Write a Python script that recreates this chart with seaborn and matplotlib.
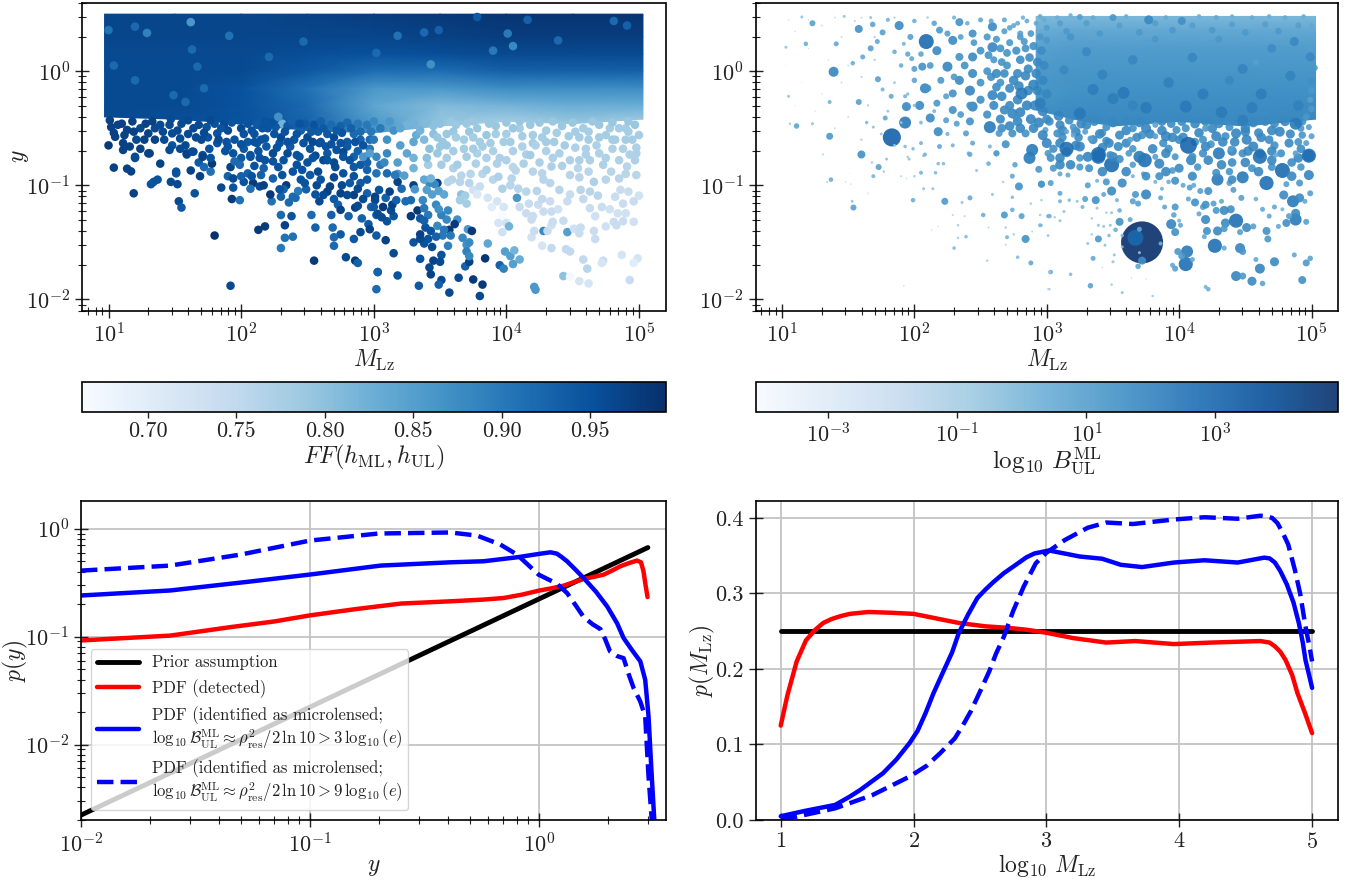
import numpy as np
import pandas as pd
import matplotlib
matplotlib.use("Agg")
import matplotlib.pyplot as plt
from matplotlib.cm import ScalarMappable
from matplotlib.colors import Normalize, LogNorm
from matplotlib.ticker import LogLocator, NullFormatter, FixedLocator
import seaborn as sns

# ---------- panel (a): sparse points (log10 M, log10 y, FF) ----------
ff_spots = [(1.62,.43,.86),(1.0,.36,.91),(1.2,.39,.92),(1.29,.335,.89),(1.91,.31,.91),(1.63,.19,.92),(1.04,.05,.92),(1.2,-.08,.92),
 (1.72,-.15,.92),(1.67,.04,.92),(1.58,-.27,.92),(1.49,-.21,.92),(2.28,-.40,.87),(2.21,.125,.92),(2.47,.26,.92),(3.18,.31,.91),
 (3.38,.34,.92),(3.49,.36,.93),(4.01,.33,.9),(4.39,.27,.92),(4.05,.22,.88),(3.9,.18,.9),(3.43,.06,.87),(4.81,.44,.92),(4.91,.40,.93),
 (4.16,.45,.93),(3.78,.475,.94),(3.02,.16,.92)]
ff_low_left = [(1.0,-.65,.98),(1.05,-.575,.97),(1.11,-.63,.97),(1.16,-.66,.97),(1.2,-.75,.96),(1.24,-.68,.97),(1.3,-.72,.97),(1.21,-.6,.96),
 (1.02,-.49,.97),(1.07,-.47,.97),(1.01,-.43,.97),(1.14,-.515,.97),(1.24,-.5,.96),(1.3,-.545,.97),(1.35,-.6,.97),(1.41,-.53,.96),
 (1.48,-.545,.96),(1.54,-.59,.96),(1.48,-.65,.95),(1.54,-.68,.96),(1.59,-.72,.97),(1.64,-.705,.96),(1.58,-.65,.96),(1.39,-.47,.96),
 (1.64,-.5,.96),(1.74,-.49,.95),(1.82,-.545,.95),(1.71,-.735,.95),(1.76,-.68,.95),(1.82,-.63,.95),(1.89,-.62,.95),(1.94,-.72,.95),
 (2.02,-.68,.94),(2.07,-.735,.95),(2.12,-.63,.95),(2.19,-.66,.94),(2.24,-.72,.96),(2.29,-.63,.95),(2.37,-.66,.94),(2.42,-.735,.95),
 (2.52,-.68,.95),(2.59,-.63,.96),(2.65,-.72,.94),(2.72,-.69,.95),(2.8,-.66,.94),(2.85,-.75,.93),(2.9,-.6,.93),(2.97,-.68,.9),(2.31,-.46,.82),
 (2.35,-.48,.94),(2.45,-.52,.93),(2.55,-.47,.95),(2.65,-.55,.94),(2.75,-.48,.93),(2.85,-.55,.92),(2.95,-.47,.9),(2.4,-.6,.95),(2.6,-.62,.95),
 (2.8,-.62,.94),(2.92,-.65,.95),(2.2,-.5,.95),(2.1,-.55,.95),(2.0,-.5,.96),(1.9,-.52,.96),(1.95,-.6,.95),(2.05,-.62,.94),(2.15,-.6,.95),
 (2.3,-.58,.96),(2.5,-.58,.96),(2.7,-.58,.96),(1.75,-.58,.95),
 (1.1,-.46,.97),(1.18,-.44,.97),(1.28,-.46,.97),(1.35,-.5,.96),(1.46,-.47,.96),(1.55,-.46,.96),(1.6,-.55,.96),(1.68,-.47,.96),(1.7,-.6,.96),(1.8,-.46,.95),
 (1.87,-.47,.96),(1.93,-.45,.95),(2.05,-.46,.95),(2.12,-.47,.94),(2.18,-.44,.95),(2.26,-.49,.94),(2.38,-.44,.93),(2.48,-.46,.94),(2.6,-.44,.93),(2.68,-.47,.92),
 (2.8,-.45,.92),(2.88,-.46,.9),(3.0,-.44,.88),(2.98,-.53,.9),(2.76,-.54,.95),(2.58,-.53,.94),(2.42,-.55,.95),(2.25,-.55,.95),(2.08,-.52,.95),(1.83,-.6,.96),
 (2.13,-.7,.95),(2.27,-.67,.95),(2.47,-.63,.95),(2.56,-.74,.96),(2.68,-.64,.95),(2.77,-.71,.96),(2.88,-.7,.93),(2.94,-.75,.94),(2.35,-.72,.96),(2.0,-.76,.94),
 (1.88,-.7,.95),(2.18,-.78,.95),(2.5,-.8,.95),(2.7,-.8,.96),(2.9,-.82,.94)]
ff_low_extra = [(1.04,-.54,.97),(1.12,-.56,.97),(1.19,-.53,.97),(1.27,-.6,.97),(1.33,-.44,.97),(1.42,-.6,.96),(1.47,-.42,.96),(1.52,-.52,.96),(1.6,-.43,.96),(1.66,-.58,.96),(1.72,-.54,.96),
 (1.77,-.43,.96),(1.85,-.5,.95),(1.98,-.43,.95),(2.02,-.55,.95),(2.16,-.5,.95),(2.23,-.45,.95),(2.33,-.53,.95),(2.44,-.46,.95),(2.53,-.53,.94),(2.62,-.5,.94),(2.72,-.52,.94),(2.83,-.5,.93),
 (2.9,-.53,.92),(2.97,-.6,.92),(2.86,-.62,.95),(2.64,-.66,.95),(2.54,-.62,.96),(2.35,-.62,.95),(2.18,-.59,.95),(1.9,-.66,.95),(2.0,-.64,.95),(2.1,-.62,.95),(2.75,-.63,.95),(2.82,-.78,.95),
 (2.62,-.78,.96),(2.42,-.82,.95),(2.28,-.84,.95),(2.1,-.83,.95),(2.95,-.8,.93),(3.05,-.82,.9),
 (3.1,-.72,.88),(3.08,-.8,.88),(3.18,-.8,.85),(3.32,-.56,.83),(3.38,-.6,.81),(3.45,-.55,.8),(3.52,-.62,.79),(3.6,-.53,.79),(3.72,-.53,.79),(3.8,-.62,.78),(3.92,-.55,.78),(4.0,-.55,.78),
 (4.1,-.5,.78),(4.2,-.63,.78),(4.27,-.58,.78),(4.38,-.54,.78),(4.44,-.65,.78),(4.52,-.53,.78),(4.62,-.53,.78),(4.68,-.65,.77),(4.78,-.5,.78),(4.8,-.6,.78),(4.9,-.5,.78),(4.95,-.6,.78),
 (3.55,-.65,.79),(3.78,-.72,.77),(3.95,-.76,.77),(4.15,-.73,.77),(4.35,-.76,.77),(4.6,-.73,.77),(4.75,-.76,.77),(4.98,-.72,.77),(3.48,-.72,.79),(3.18,-.9,.86),(3.6,-.85,.77),(3.82,-.9,.76),
 (4.05,-.84,.76),(4.2,-.88,.76),(4.62,-.88,.76),(4.9,-.9,.76),(4.75,-.95,.76),(4.55,-.93,.76),(3.72,-.98,.76)]
ff_mid_left = [(1.04,-.845,.97),(1.14,-.854,.97),(1.17,-.878,.97),(1.2,-.76,.96),(1.19,-1.07,.97),(1.32,-.99,.95),(1.34,-.97,.95),(1.37,-.95,.95),
 (1.39,-.81,.97),(1.47,-.97,.96),(1.52,-.99,.96),(1.51,-.88,.95),(1.51,-.895,.95),(1.62,-.87,.97),(1.69,-.92,.97),(1.65,-1.07,.95),(1.53,-1.14,.96),
 (1.55,-1.195,.94),(1.68,-.8,.94),(1.72,-.84,.92),(1.77,-.88,.91),(1.85,-1.02,.96),(1.93,-1.12,.98),(1.99,-1.13,.91),(1.94,-1.02,.95),(1.8,-1.44,.99),
 (2.13,-1.39,.98),(2.18,-1.36,.98),(1.92,-1.88,.96),(2.3,-1.26,.92),(2.38,-1.27,.95),(2.53,-1.26,.92),(2.33,-1.35,.97),(2.56,-1.37,.93),(2.33,-1.46,.91),
 (2.39,-1.45,.91),(2.3,-1.55,.9),(2.69,-1.37,.92),(2.75,-1.43,.94),(2.7,-1.455,.92),(2.7,-1.53,.92),(2.85,-1.47,.94),(2.9,-1.41,.96),(3.02,-1.44,.94),
 (2.55,-1.66,.98),(2.79,-1.63,.96),(2.86,-1.66,.98),(2.88,-1.68,.93),(3.03,-1.76,.93),(3.02,-1.91,.92),(2.81,-1.27,.93),(2.68,-1.26,.93),(2.59,-1.14,.96),
 (2.36,-1.15,.92),(2.23,-1.14,.91),(2.3,-1.10,.93),(2.22,-1.08,.98),(2.41,-1.11,.92),(2.39,-1.10,.92),(1.11,-.69,.97),(1.31,-.72,.97),(1.46,-.69,.96),
 (1.59,-.73,.97),(1.63,-.705,.96),(1.71,-.75,.97),(1.78,-.81,.98),(1.77,-.76,.95),(1.92,-.84,.97),(1.95,-.79,.92),(1.99,-.82,.92),(1.9,-.92,.93),
 (1.94,-.94,.96),(2.02,-.97,.95),(2.09,-.98,.98),(2.0,-.92,.93),(2.05,-.895,.93),(2.08,-.92,.95),(2.15,-.91,.93),(2.17,-.85,.93),(2.14,-1.01,.96),
 (2.17,-1.0,.97),(2.07,-1.03,.91),(2.24,-.94,.93),(2.31,-.91,.95),(2.34,-1.0,.98),(2.32,-1.035,.93),(2.29,-1.035,.95),(2.43,-1.05,.9),(2.49,-1.035,.93),
 (2.48,-.98,.95),(2.57,-1.0,.96),(2.52,-.91,.94),(2.39,-.88,.95),(2.46,-.865,.95),(2.58,-.88,.96),(2.65,-1.055,.97),(2.62,-1.085,.96),(2.67,-1.01,.97),
 (2.75,-1.07,.97),(2.8,-1.085,.96),(2.85,-1.085,.97),(2.73,-1.17,.93),(2.75,-1.215,.97),(2.86,-1.195,.97),(2.88,-1.18,.96),(2.91,-1.29,.93),(2.96,-1.34,.94),
 (2.97,-1.385,.97),(3.02,-1.26,.93),(2.98,-1.19,.93),(3.01,-1.13,.96),(2.95,-1.07,.93),(2.9,-.98,.94),(2.82,-.98,.94),(2.77,-.895,.95),(2.71,-.84,.96),
 (2.85,-.84,.94),(2.95,-.865,.93),(3.02,-.895,.91),(2.65,-.78,.95),(2.77,-.75,.95),(2.54,-.76,.95),(2.44,-.75,.95),(2.32,-.78,.95),(2.24,-.79,.95),
 (2.14,-.76,.95),(2.07,-.75,.95),(3.02,-.75,.88),(2.92,-.75,.86),(2.97,-.72,.85),
 (2.6,-.95,.95),(2.7,-.93,.96),(2.85,-.92,.95),(2.95,-.95,.94),(2.76,-1.0,.96),(2.88,-1.03,.96),(2.56,-1.08,.95),(2.7,-1.12,.94),(2.92,-1.12,.96),(2.45,-.95,.95)]
ff_dark_tail = [(3.09,-1.481,.97),(3.15,-1.595,.96),(3.03,-1.76,.93),(3.18,-1.79,.95),(3.35,-1.644,.95),(3.45,-1.66,.97),(3.51,-1.61,.95),(3.5,-1.67,.96),
 (3.42,-1.72,.96),(3.43,-1.78,.97),(3.51,-1.83,.96),(3.49,-1.87,.93),(3.34,-1.88,.94),(3.57,-1.94,.96),(3.64,-1.81,.96),(3.75,-1.825,.98),(3.82,-1.87,.98),
 (3.8,-1.97,.96),(3.69,-1.71,.93),(3.72,-1.67,.97),(3.84,-1.64,.985),(3.95,-1.7,.93),(3.98,-1.73,.89),(3.67,-1.46,.88),(3.7,-1.52,.87),(3.72,-1.5,.88),
 (3.7,-1.58,.89),(3.72,-1.62,.88),(3.56,-1.53,.89),(3.71,-1.385,.86),(3.74,-1.4,.98),(3.63,-1.3,.87),(3.61,-1.34,.98),(3.57,-1.39,.98),(3.58,-1.44,.9),
 (3.52,-1.44,.9),(3.47,-1.45,.93),(3.44,-1.54,.96),(3.41,-1.47,.95),(3.38,-1.51,.95),(3.3,-1.5,.95),(3.35,-1.47,.96),(3.35,-1.43,.97),(3.39,-1.37,.95),
 (3.43,-1.4,.95),(3.48,-1.355,.88),(3.53,-1.39,.9),(3.55,-1.3,.88),(3.56,-1.22,.88),(3.51,-1.26,.89),(3.47,-1.17,.88),(3.49,-1.21,.87),(3.41,-1.26,.9),
 (3.35,-1.29,.94),(3.38,-1.31,.93),(3.33,-1.22,.98),(3.28,-1.27,.98),(3.28,-1.13,.92),(3.24,-1.14,.92),(3.37,-1.13,.88),(3.38,-1.2,.9),(3.1,-1.315,.95),
 (3.06,-1.28,.96),(3.03,-1.25,.96),(3.15,-1.27,.95),(3.13,-1.22,.96),(3.07,-1.19,.98),(3.0,-1.19,.94),(3.14,-1.17,.97),(3.17,-1.13,.93),(3.09,-1.11,.93),
 (3.01,-1.1,.97),(3.04,-1.04,.95),(3.12,-1.055,.97),(3.21,-1.03,.92),(3.18,-.97,.97),(3.16,-.91,.9),(3.23,-.915,.85),(3.1,-.895,.92),(3.3,-1.0,.97),
 (3.31,-1.035,.86),(3.48,-.98,.97),(3.42,-.98,.88),(3.46,-.99,.88),(3.4,-1.04,.85),(3.44,-1.08,.85),(3.49,-1.05,.85),(3.53,-1.08,.84),(3.38,-.95,.84),
 (3.43,-.94,.82),(3.56,-.97,.76),(3.59,-.95,.76)]
ff_light_tail = [(3.99,-1.58,.85),(4.03,-1.62,.85),(4.06,-1.57,.82),(4.1,-1.65,.83),(4.05,-1.69,.85),(4.21,-1.89,.86),(4.22,-1.915,.86),(4.43,-1.795,.8),
 (4.27,-1.53,.72),(4.34,-1.55,.75),(4.45,-1.56,.75),(4.48,-1.58,.75),(4.58,-1.65,.75),(4.73,-1.66,.74),(4.72,-1.68,.72),(4.61,-1.73,.76),(4.87,-1.61,.72),
 (4.99,-1.64,.72),(4.96,-1.68,.7),(4.55,-1.84,.72),(4.62,-1.86,.72),(4.93,-1.83,.74),(4.48,-1.8,.67),(3.86,-1.51,.84),(3.66,-.915,.76),(3.65,-.97,.76),
 (3.66,-1.08,.8),(3.69,-1.09,.78),(3.65,-1.13,.78),(3.7,-1.16,.78),(3.73,-.9,.76),(3.75,-1.04,.73),(3.78,-1.08,.71),(3.8,-1.01,.74),(3.86,-1.11,.72),
 (3.93,-1.14,.72),(3.89,-1.19,.7),(3.98,-1.19,.72),(3.97,-1.26,.66),(3.94,-1.33,.72),(4.0,-1.33,.73),(4.02,-1.36,.82),(3.97,-1.41,.73),(4.19,-1.455,.73),
 (4.21,-1.4,.74),(4.28,-1.4,.88),(4.31,-1.4,.74),(4.34,-1.35,.73),(4.35,-1.32,.74),(4.43,-1.31,.74),(4.46,-1.41,.85),(4.51,-1.38,.73),(4.56,-1.37,.74),
 (4.55,-1.42,.74),(4.66,-1.4,.74),(4.67,-1.47,.74),(4.75,-1.36,.73),(4.81,-1.32,.74),(4.83,-1.35,.74),(4.88,-1.315,.74),(4.96,-1.32,.73),(4.08,-1.11,.86),
 (4.2,-1.27,.74),(4.19,-1.3,.74),(4.15,-1.245,.74),(4.1,-1.19,.74),(4.17,-1.16,.74),(4.24,-1.17,.74),(4.28,-1.23,.74),(4.34,-1.23,.74),(4.39,-1.21,.73),
 (4.33,-1.14,.74),(4.27,-1.12,.75),(4.46,-1.14,.74),(4.48,-1.08,.74),(4.58,-1.12,.75),(4.63,-1.2,.74),(4.67,-1.27,.73),(4.72,-1.19,.74),(4.78,-1.21,.73),
 (4.84,-1.245,.73),(4.9,-1.245,.73),(4.96,-1.14,.74),(5.0,-1.09,.73),(4.88,-1.16,.74),(4.82,-1.1,.74),(4.92,-1.055,.74),(4.86,-1.04,.74),(4.69,-1.09,.76),
 (4.63,-1.055,.76),(4.56,-1.04,.76),(4.4,-1.04,.76),(4.33,-.98,.76),(4.28,-.95,.76),(4.23,-1.05,.76),(4.15,-1.055,.76),(4.09,-1.03,.76),(4.03,-1.0,.76),
 (3.97,-1.03,.77),(3.9,-.95,.76),(3.94,-.925,.77),(4.04,-.94,.76),(4.13,-.81,.77),(4.18,-.735,.78),(4.27,-.895,.76),(4.34,-.835,.77),(4.42,-.83,.77),
 (4.48,-.78,.77),(4.48,-.91,.76),(4.54,-.85,.76),(4.63,-.78,.77),(4.66,-.97,.77),(4.73,-.82,.77),(4.79,-.88,.76),(4.91,-.835,.76),(4.97,-.78,.77),(4.98,-.91,.76),
 (4.85,-.94,.76),(3.93,-.81,.77),(3.85,-.865,.77),(3.77,-.81,.77),(3.7,-.75,.78),(3.63,-.82,.78),(3.51,-.82,.78),(3.41,-.82,.78),(3.3,-.85,.82),(3.3,-.76,.82),
 (3.25,-.47,.82),(3.35,-.52,.82),(3.45,-.48,.8),(3.55,-.55,.79),(3.62,-.47,.79),(3.68,-.6,.78),(3.78,-.5,.79),(3.85,-.56,.79),(3.92,-.48,.79),(3.98,-.62,.78),
 (4.05,-.5,.79),(4.12,-.57,.78),(4.18,-.47,.79),(4.22,-.65,.77),(4.3,-.52,.78),(4.36,-.62,.78),(4.42,-.48,.79),(4.47,-.57,.78),(4.52,-.67,.77),(4.58,-.5,.78),
 (4.62,-.6,.78),(4.7,-.47,.79),(4.75,-.56,.78),(4.8,-.68,.77),(4.85,-.5,.78),(4.9,-.6,.78),(4.97,-.47,.79),(5.0,-.56,.78),(4.98,-.67,.77),(3.3,-.62,.84),(3.42,-.68,.8),
 (3.6,-.7,.78),(3.75,-.68,.78),(3.9,-.7,.77),(4.05,-.7,.77),(4.4,-.72,.77),(4.7,-.72,.77),(4.93,-.73,.77),(3.1,-.6,.87),(3.15,-.52,.87),(3.2,-.65,.85),(3.05,-.5,.9),(3.0,-.6,.9),
 (3.12,-.44,.86),(3.2,-.5,.84),(3.3,-.45,.82),(3.4,-.44,.81),(3.5,-.46,.8),(3.58,-.44,.79),(3.7,-.46,.79),(3.75,-.44,.79),(3.87,-.46,.79),(4.0,-.45,.79),(4.1,-.44,.79),
 (4.25,-.45,.79),(4.35,-.44,.79),(4.5,-.45,.79),(4.65,-.44,.79),(4.8,-.45,.79),(4.92,-.44,.79),(3.48,-.58,.79),(3.62,-.58,.78),(3.75,-.58,.78),(3.88,-.63,.78),(4.03,-.62,.78),
 (4.2,-.56,.78),(4.3,-.62,.78),(4.55,-.58,.78),(4.7,-.58,.78),(4.82,-.6,.78),(4.92,-.53,.78),(3.5,-.66,.79),(3.68,-.68,.78),(3.82,-.66,.78),(4.12,-.66,.77),(4.3,-.7,.77),
 (4.6,-.68,.77),(4.88,-.68,.77),(3.25,-.72,.84),(3.4,-.76,.8),(3.55,-.76,.78),(3.85,-.76,.77),(4.0,-.78,.77),(4.25,-.8,.77),(4.55,-.78,.77),(4.85,-.78,.77),(4.07,-.87,.76)]

# dense FF band, as a coarse table
band_logM = [.97, 1.5, 2, 2.5, 3, 3.5, 4, 4.5, 5.03]
band_logy = [.5, .3, .15, 0, -.15, -.3, -.42]
band_edge = [-.4, -.42, -.46, -.52, -.54, -.48, -.44, -.46, -.42]
band_ff = [[.965,.965,.965,.97,.975,.98,.985,.985,.985],
           [.965,.965,.965,.965,.965,.97,.975,.975,.975],
           [.96,.96,.96,.955,.95,.955,.96,.96,.96],
           [.96,.96,.96,.94,.915,.915,.93,.93,.93],
           [.96,.96,.95,.91,.86,.86,.875,.875,.875],
           [.96,.96,.95,.92,.84,.81,.82,.83,.83],
           [.96,.955,.95,.93,.87,.79,.78,.79,.79]]

# ---------- panel (b): points (log10 M, log10 y, log10 B) ----------
bf_giant = [(3.72,-1.5,4.9),(2.87,-.76,2.37),(3.67,-1.46,2.95)]
bf_low = [(3.72,-1.66,1.55),(3.69,-1.71,.8),(3.7,-1.385,.6),(3.86,-1.51,.15),(3.7,-1.59,-.43),(3.57,-1.54,-.43),(4.05,-1.69,2.7),(4.06,-1.58,2.37),(3.99,-1.58,1.28),
 (3.95,-1.7,.6),(3.97,-1.73,.97),(4.1,-1.65,.6),(4.02,-1.62,1.28),(4.27,-1.53,2.7),(4.34,-1.55,.6),(4.46,-1.55,2.0),(4.48,-1.58,1.28),(4.43,-1.795,2.0),(4.48,-1.795,1.28),
 (4.55,-1.84,1.8),(4.63,-1.86,.8),(4.61,-1.73,2.0),(4.72,-1.67,1.8),(4.58,-1.65,.6),(4.87,-1.61,.6),(4.96,-1.68,1.28),(4.99,-1.64,.8),(4.93,-1.83,1.55),(4.2,-1.89,.15),
 (4.22,-1.91,.4),(3.33,-1.88,.8),(3.18,-1.78,-.1),(3.03,-1.76,.4),(3.02,-1.91,-.8),(3.49,-1.87,-.8),(3.57,-1.94,-.43),(3.8,-1.97,-.8),(3.64,-1.81,-1.8),(3.75,-1.82,-1.8),
 (3.35,-1.64,.6),(3.51,-1.61,-.43),(3.5,-1.67,-.43),(3.42,-1.72,-1.8),(3.39,-1.47,1.28),(3.31,-1.51,-.43),(3.34,-1.43,-.8),(3.44,-1.525,-.43),(3.47,-1.44,-.1),(3.52,-1.39,.4),
 (3.57,-1.44,-.1),(3.55,-1.32,1.55),(3.63,-1.3,.6),(3.55,-1.22,.4),(3.49,-1.24,-.43),(3.45,-1.24,-.8),(3.43,-1.36,-.43),(3.48,-1.35,-.43),(3.39,-1.35,-.43),(3.38,-1.2,-.43),
 (3.34,-1.29,-.8),(3.53,-1.13,.15),(3.37,-1.13,1.55),(3.29,-1.12,.97),(3.27,-1.19,.15),(3.23,-1.14,-.43),(3.17,-1.13,-.1),(3.1,-1.14,.15),(3.13,-1.23,-.43),(3.02,-1.27,.4),
 (3.06,-1.28,-.8),(3.1,-1.31,-.43),(2.96,-1.35,-.43),(3.01,-1.44,-.8),(3.94,-1.34,2.0),(3.97,-1.41,1.55),(3.96,-1.26,.8),(3.97,-1.19,1.28),(3.89,-1.19,.6),(3.86,-1.11,.6),
 (4.01,-1.35,.6),(4.0,-1.31,.15),(3.65,-1.14,.97),(3.69,-1.16,.97)]
bf_right = [(4.2,-1.3,1.8),(4.21,-1.4,1.55),(4.19,-1.45,.6),(4.29,-1.4,1.8),(4.35,-1.33,1.8),(4.43,-1.31,2.7),(4.34,-1.38,1.28),(4.51,-1.37,1.8),(4.56,-1.36,.97),(4.46,-1.41,.97),
 (4.66,-1.4,1.55),(4.67,-1.47,1.28),(4.75,-1.36,.6),(4.81,-1.33,1.55),(4.88,-1.3,2.37),(4.88,-1.245,1.8),(4.96,-1.32,.97),(4.83,-1.27,.97),(4.68,-1.27,.6),(4.63,-1.21,.6),
 (4.72,-1.19,.6),(4.78,-1.21,.15),(4.39,-1.21,1.55),(4.34,-1.22,1.8),(4.28,-1.22,1.28),(4.15,-1.25,.6),(4.18,-1.19,.97),(4.2,-1.17,1.55),(4.26,-1.16,.97),(4.12,-1.15,1.55),
 (4.32,-1.14,.6),(4.07,-1.12,.6),(4.86,-1.14,2.37),(4.91,-1.11,1.8),(4.79,-1.085,1.8),(4.95,-1.14,.6),(4.99,-1.07,.97),(4.81,-.99,.97),(4.91,-.98,1.28),(4.66,-.98,2.7),
 (4.58,-1.12,.4),(4.47,-1.11,.97),(4.48,-.93,2.37),(4.29,-.95,2.37),(4.22,-1.05,1.55),(4.16,-1.05,.97),(4.41,-1.04,.97),(4.38,-.98,.97),(4.08,-1.02,.97),(4.11,-1.0,.6),
 (4.03,-1.0,.6),(3.97,-.96,1.55),(3.92,-.97,.4),(3.87,-1.03,.15),(3.82,-.97,.15),(3.85,-.92,1.55),(3.73,-.9,.6),(3.65,-.92,.15),(3.57,-.98,1.8),(3.45,-.97,1.28),(3.49,-1.05,1.8),
 (3.43,-1.08,.6),(3.31,-1.0,.97),(3.38,-.96,.15),(3.16,-.91,.6),(3.1,-.9,.6),(3.03,-.98,.97),(2.96,-.99,1.28),(3.1,-1.07,.6),(3.75,-1.08,2.0),(3.67,-1.08,1.28),(4.78,-.87,2.82),
 (4.98,-.91,2.0),(4.98,-.74,2.37),(4.61,-.72,2.0),(4.28,-.89,1.55),(4.0,-.85,1.8),(4.09,-.78,2.0),(3.49,-.82,2.82),(3.39,-.75,2.7),(3.74,-.78,2.7),(3.85,-.81,2.0),(3.32,-.85,1.55),
 (3.03,-.76,1.55),(3.15,-.71,2.0)]
bf_edge = [(4.07,-.65,3.05),(4.98,-.74,2.7),(3.15,-.68,2.7),(3.39,-.73,2.82),(3.7,-.75,2.37),(3.0,-.63,2.0),(3.08,-.545,1.55),(3.2,-.49,1.28),(3.29,-.53,.97),(3.35,-.6,1.8),(3.55,-.56,1.8),
 (3.63,-.6,.97),(3.54,-.66,1.8),(3.82,-.47,.97),(3.75,-.5,2.0),(3.9,-.57,2.0),(3.98,-.515,1.55),(3.82,-.57,.97),(3.97,-.75,1.28),(4.1,-.75,1.55),(4.18,-.6,1.55),(4.28,-.57,2.0),
 (4.3,-.72,2.37),(4.39,-.68,.97),(4.48,-.43,2.2),(4.43,-.545,2.0),(4.51,-.6,2.0),(4.56,-.66,2.0),(4.61,-.75,2.7),(4.76,-.53,2.0),(4.83,-.63,1.8),(4.77,-.72,1.55),(4.92,-.5,1.28),
 (4.96,-.63,.97),(5.0,-.57,.97),(4.98,-.49,.97),(4.88,-.72,.97),(4.73,-.735,.6),(4.38,-.49,1.55),(4.2,-.5,1.28),(4.05,-.5,1.55),(3.65,-.5,1.55),(3.45,-.49,1.55),(3.33,-.59,.97),
 (3.2,-.56,.6),(3.15,-.53,.6),(2.99,-.515,.97),(3.01,-.72,1.28),(3.25,-.66,2.0),(3.31,-.75,2.0),(3.48,-.735,1.55),(3.82,-.75,.97),(3.77,.45,1.8),(3.25,.475,.97),(3.5,.47,1.28),
 (4.02,.44,1.55),(4.87,.26,1.8),(4.99,.125,1.8),(5.0,-.09,1.55),(4.99,-.25,.97),(4.96,-.4,1.28),(3.13,.01,1.8),(4.38,-.08,1.8),(4.58,.08,.97),(4.05,-.31,2.37),(3.58,-.19,2.37),
 (3.65,-.3,2.0),(3.25,-.37,2.37),(3.09,-.39,2.0),(4.88,-.46,2.37)]
bf_band_bottom = [(3.02,-.44,1.7),(3.1,-.47,1.8),(3.17,-.43,1.7),(3.26,-.46,1.9),(3.36,-.44,1.8),(3.42,-.54,1.5),(3.5,-.45,1.9),(3.6,-.44,1.8),(3.7,-.45,1.9),(3.72,-.56,1.6),(3.87,-.44,1.8),(3.94,-.46,1.7),
 (4.02,-.44,1.8),(4.12,-.46,1.9),(4.2,-.44,1.8),(4.3,-.46,1.8),(4.38,-.44,1.7),(4.56,-.45,1.9),(4.65,-.44,1.8),(4.72,-.46,1.7),(4.8,-.44,1.9),(4.93,-.44,1.6),(3.12,-.58,1.6),(3.24,-.58,1.7),(3.45,-.61,1.6),
 (3.65,-.68,1.4),(3.88,-.63,1.6),(4.0,-.6,1.7),(4.12,-.62,1.6),(4.24,-.64,1.5),(4.35,-.57,1.6),(4.6,-.54,1.8),(4.68,-.6,1.7),(4.72,-.65,1.6),(4.9,-.62,1.5),(4.93,-.56,1.4),(4.5,-.5,1.9),(3.05,-.68,1.6),
 (3.25,-.76,1.4),(3.55,-.77,1.6),(3.92,-.68,1.6),(4.18,-.72,1.6),(4.48,-.72,1.6),(4.85,-.8,1.7),(4.4,-.8,1.7),(4.14,-.84,1.4),(3.62,-.72,1.2),(3.25,-.84,1.3),(3.05,-.85,1.3),(4.55,-.85,1.5),(4.7,-.84,1.5),
 (4.92,-.84,1.4),(4.38,-.88,1.4),(3.95,-.87,1.2),(3.65,-.82,1.1)]
bf_dense = [(2.78,.42,.5),(2.85,.44,.5),(2.92,.42,.6),(2.98,.45,.5),(2.8,.3,1.2),(2.88,.33,1.2),(2.95,.3,1.3),(2.77,.18,1.6),(2.83,.26,1.3),(2.9,.22,1.6),(2.96,.18,1.7),(3.0,.27,1.3),(2.8,.1,1.7),(2.87,.12,1.7),
 (2.93,.08,1.8),(2.98,.05,1.8),(2.78,-.02,1.8),(2.84,-.04,1.9),(2.92,-.02,1.9),(2.97,-.08,1.9),(2.79,-.13,1.9),(2.86,-.17,1.9),(2.93,-.17,1.9),(3.0,-.2,1.9),(2.78,-.25,1.9),(2.85,-.3,2),(2.91,-.3,2),(2.97,-.35,2),
 (2.8,-.36,2),(2.88,-.42,2),(2.94,-.45,2),(3.0,-.42,1.8),(2.72,-.48,1.9),(2.8,-.5,1.9),(2.66,-.5,1.7),(2.9,-.5,1.9),
 (3.12,-.52,1.9),(3.22,-.53,1.9),(3.3,-.47,1.9),(3.4,-.55,1.9),(3.47,-.63,1.9),(3.6,-.52,1.9),(3.68,-.58,1.8),(3.78,-.55,1.9),(3.87,-.52,1.9),(3.95,-.58,1.9),(4.03,-.58,1.9),(4.15,-.54,1.9),(4.25,-.5,1.9),
 (4.33,-.62,1.9),(4.42,-.62,1.9),(4.5,-.53,1.9),(4.62,-.58,1.9),(4.7,-.52,1.9),(4.84,-.55,1.8),(4.9,-.45,1.8),(3.1,-.63,1.9),(3.22,-.65,1.9),(3.42,-.67,1.9),(3.6,-.63,1.8),(3.8,-.68,1.9),(3.9,-.72,1.9),(4.2,-.66,1.9),
 (4.4,-.7,1.9),(4.52,-.7,1.9),(4.7,-.7,1.9),(4.92,-.68,1.7),(3.1,-.76,1.9),(3.5,-.75,1.9),(3.6,-.88,1.9),(3.9,-.88,1.9),(4.22,-.78,1.9),(4.32,-.82,1.9),(4.5,-.8,1.9),(4.7,-.78,1.9),(4.9,-.76,1.9),(3.18,-.82,1.9),
 (3.42,-.88,1.9),(3.1,-.82,1.9),(4.6,-.88,1.9),(4.85,-.92,1.9),(4.4,-.95,1.7),(4.1,-.92,1.8),(3.75,-.92,1.7),
 (3.0,.38,1.0),(3.1,.42,1.0),(3.15,.35,1.2),(3.3,.42,1.0),(3.4,.33,1.2),(3.55,.4,1.0),(3.7,.34,1.2),(3.82,.42,1.0),(3.95,.36,1.2),(4.1,.4,1.0),(4.25,.36,1.2),(4.4,.41,1.0),(4.5,.34,1.2),(4.65,.41,1.0),(4.75,.35,1.2),(4.9,.4,1.0)]
bf_texture = [(2.75,.4,.6),(2.8,.33,1.0),(2.84,.2,1.5),(2.86,.02,1.8),(2.9,-.12,2.1),(2.95,-.28,2.2),(3.18,.3,1.4),(3.3,.17,1.8),(3.42,-.03,2.0),(3.5,-.24,2.2),(3.65,.1,1.9),(3.82,.28,1.3),(3.92,-.1,2.1),
 (4.1,.12,1.9),(4.18,-.2,2.2),(4.3,.28,1.3),(4.48,.02,2.0),(4.62,-.2,2.2),(4.7,.2,1.7),(4.84,-.04,2.0),(4.9,-.3,2.1),(3.35,-.16,2.2),(3.75,-.32,2.3),(4.32,-.36,2.3),(4.55,-.32,2.2),
 (2.82,.47,.3),(2.95,.48,.5),(3.08,.47,.4),(3.18,.49,.3),(3.35,.47,.5),(3.6,.48,.4),(3.9,.47,.5),(4.15,.48,.4),(4.28,.47,.6),(4.4,.48,.3),(4.55,.47,.5),(4.68,.48,.4),(4.8,.47,.5),(4.94,.48,.4),
 (5.0,.4,.6),(5.0,.3,.8),(5.0,.2,1.0),(5.02,.03,1.3),(5.0,-.17,1.3),(5.0,-.33,1.2),(2.72,.38,.8),(2.7,.16,1.5),(2.68,-.02,1.7),(2.75,-.08,1.9),(2.66,-.22,1.9),(2.74,-.37,2.0),(2.78,-.44,1.9),(2.68,-.34,1.8),
 (2.62,.28,1.3),(2.66,.08,1.5),(2.62,-.14,1.7),(2.58,-.05,1.6),(2.56,.14,1.5)]
bf_left = [(1.6,-.73,1.55),(1.73,-.84,.97),(1.69,-.92,.15),(1.77,-.88,-.8),(1.37,-.95,.4),(1.34,-.97,-1.25),(1.54,-1.195,.97),(1.53,-1.14,-.43),(1.65,-1.07,-1.8),(1.99,-1.13,.4),(2.23,-1.14,1.28),
 (2.36,-1.15,-.43),(2.42,-1.11,.6),(2.52,-1.26,.4),(2.68,-1.26,1.28),(2.81,-1.27,.97),(2.84,-1.47,1.55),(2.7,-1.455,.15),(2.39,-1.45,-.1),(2.33,-1.46,-.8),(2.3,-1.55,-.1),(2.33,-1.35,-.8),
 (2.29,-1.26,-1.25),(2.38,-1.27,-1.25),(2.55,-1.66,-.8),(2.78,-1.63,-.1),(2.88,-1.68,.6),(1.92,-1.88,-1.8),(3.02,-1.76,-.43),(3.01,-1.91,-1.25),(2.79,-1.01,1.55),(2.96,-.99,1.28),(2.94,-.86,1.28),
 (2.76,-.82,.8),(2.74,-.92,.6),(2.56,-.81,.4),(2.62,-.72,.97),(2.41,-.72,.15),(2.18,-.81,-.1),(2.22,-.81,-.1),(2.16,-.89,-.1),(2.05,-.89,.15),(1.96,-.77,-.43),(2.07,-.74,-.43),(2.07,-1.03,-.43),
 (2.14,-1.03,-.43),(2.59,-1.08,-.43),(2.67,-.97,-.8),(2.47,-.87,-.43),(2.88,-1.16,-.8),(2.96,-1.13,-.8),(3.01,-1.27,.15),(2.95,-1.35,.15),(2.95,-1.26,-.8),(2.74,-1.215,.4),(2.74,-1.105,-.1),
 (2.69,-1.37,-.8),(2.56,-1.37,-1.25),(2.69,-1.52,-1.25),(2.75,-1.43,-.8),(2.89,-1.405,-1.25),(3.01,-1.44,-.8),(1.9,-.92,-1.25),(1.94,-.94,-1.8),(2.0,-.92,-.8),(1.79,-.77,-.43),(1.68,-.8,-.8),
 (1.31,-.73,-1.25),(1.48,-.97,-1.8),(1.52,-.99,-1.8),(1.51,-.895,-2.65),(2.13,-1.39,-1.8),(2.18,-1.36,-1.8),
 (1.83,-.58,3.2),(1.93,-.45,2.37),(1.94,-.31,1.8),(2.12,-.41,1.8),(1.39,-.005,2.0),(2.09,.26,2.82),(2.08,-.15,2.0),(1.725,-.07,.97),(1.23,.42,.97),(1.18,.24,.4),(1.41,.24,.6),(1.58,.37,1.55),
 (1.685,.41,.8),(1.76,.34,.97),(1.885,.4,1.8),(1.67,.2,.97),(1.61,.125,.6),(1.72,.26,.6),(1.535,.07,.4),(1.11,-.48,.8),(1.36,-.57,1.28),(1.23,-.46,-.43),(1.06,-.46,-.8),(1.05,-.22,-.43),(1.03,.21,-.43),
 (1.15,.475,-.43),(1.47,.48,-.43),(1.67,.47,-.43),(1.58,-.27,.97),(1.36,-.27,.15),(1.825,-.22,.6),(1.93,-.22,.15),(1.76,-.16,.15),(1.69,-.49,-.43),(1.78,-.41,.6),(1.64,-.45,-.1),(2.04,-.3,1.8),
 (2.18,-.53,1.8),(1.93,-.66,-.1),(1.99,-.68,-.1),(2.05,-.63,.15),(2.24,-.43,.97),(2.32,-.46,.97),(2.42,-.44,1.55),(2.57,-.49,2.37),(2.44,-.31,2.0),(2.24,-.22,.97),(2.2,-.08,1.28),(2.25,.04,2.0),
 (2.17,.18,1.8),(1.98,.11,.6),(2.0,.02,.97),(2.06,.04,1.55),(1.92,.24,.15),(1.97,.3,.97),(2.19,.36,1.28),(2.34,.43,1.55),(2.29,.27,1.8),(2.44,.33,1.55),(2.44,.125,1.8),(2.34,-.08,1.8),(2.34,.125,1.55),
 (2.29,-.195,1.55),(2.42,-.17,2.0),(2.44,-.02,1.8),(2.17,-.28,1.28),(2.29,-.34,1.55),(2.39,-.545,.97),(2.64,-.545,1.28),(2.69,-.64,1.55),(2.89,-.69,2.37),(2.84,-.545,1.55),(2.77,-.4,1.55),(2.59,-.21,2.0),
 (2.62,-.02,1.8),(2.59,.21,2.0),(2.59,.39,1.8),(2.74,-.545,1.55),(2.44,-.63,.6),(2.57,-.66,.15),(2.29,-.65,.15),(2.19,-.66,.6),(2.42,-.73,.6),(2.08,-.73,.15),(2.62,-.72,.97),(2.97,-.56,2.0),(2.81,-.195,2.37)]
bf_fill = [(2.5,.45,.6),(2.55,.3,1.3),(2.6,.1,1.3),(2.65,-.1,1.5),(2.68,.35,1.),(2.72,.25,1.3),(2.7,.05,1.5),(2.72,-.15,1.8),(2.72,-.3,1.8),(2.6,-.3,1.8),(2.55,.0,1.5),(2.5,-.1,1.5),(2.5,.18,1.5),(2.65,.2,1.5),
 (2.68,.45,.6),(2.58,.44,.6),(2.4,.42,.4),(2.45,.25,1.2),(2.35,.3,.9),(2.38,.05,1.5),(2.3,-.05,1.2),(2.5,-.25,1.6),(2.42,-.3,1.4),(2.55,-.38,1.6),(2.65,-.42,1.8),(2.35,-.38,1.2),(2.25,.33,1.),(2.15,.42,.8),
 (2.3,.47,.2),(2.12,.05,1.2),(2.05,.15,.8),(2.1,-.15,1.4),(2.0,-.08,.8),(1.9,.05,.4),(1.85,.17,.4),(1.8,.45,.2),(2.0,.44,.4),(1.95,.15,.7),
 (1.05,.45,-2),(1.1,.35,-1.8),(1.2,.2,-2),(1.3,.4,-1.5),(1.35,.1,-1.8),(1.45,.3,-1.5),(1.5,.05,-1.5),(1.55,.44,-1.2),(1.15,-.1,-2.5),(1.3,-.2,-2),(1.45,-.1,-1.5),(1.6,-.05,-1.2),(1.7,.1,-1),(1.7,.3,-1),
 (1.65,-.3,-1),(1.5,-.4,-1.5),(1.8,-.35,-.5),(1.85,-.1,-.6),(1.9,-.45,-.5),(1.75,-.55,-.5),(1.6,-.6,-1),(1.4,-.5,-1.5),(1.25,-.35,-2),(1.1,-.3,-2.5),(1.03,.05,-2.5),(1.2,.45,-1.8),(1.4,.47,-1.6),(1.6,.47,-1.4),
 (1.85,.47,-1),(2.1,.47,-.8),(2.0,-.3,-.2),(2.05,-.45,0),(1.95,-.2,-.2),(2.15,-.35,.1),(2.25,-.55,.2),(1.85,-.65,-.5),(1.95,-.75,-.8)]

core_logM = [2.92, 3.2, 3.5, 4, 4.5, 5.03]
core_logy = [.48, .36, .2, 0, -.2, -.42]
core_edge = [-.34, -.42, -.48, -.44, -.48, -.42]
core_logB = [[-.1,0,0,0,0,0],
             [.4,.6,.6,.6,.6,.6],
             [.9,1.1,1.1,1.1,1.1,1.1],
             [1.2,1.35,1.35,1.35,1.35,1.35],
             [1.3,1.5,1.55,1.55,1.55,1.55],
             [1.6,1.8,1.8,1.8,1.8,1.8]]

# ---------- panel (c): p(y) ----------
prior_y = [.01, 3.0]
prior_py = [.00222, .667]
det_y = [.01,.0245,.0447,.07,.1,.16,.25,.411,.575,.703,.85,1.0,1.14,1.285,1.42,1.57,1.75,1.92,2.1,2.27,2.5,2.69,2.8,2.87,2.93,2.99]
det_py = [.092,.102,.122,.138,.157,.18,.202,.212,.22,.2275,.245,.266,.28,.296,.318,.341,.358,.374,.41,.447,.482,.505,.487,.402,.3,.232]
ml3_y = [.01,.0245,.0547,.1,.2035,.411,.575,.804,1.0,1.125,1.2,1.26,1.33,1.45,1.57,1.78,1.99,2.2,2.35,2.55,2.78,2.92,2.97,3.02,3.07,3.12,3.2]
ml3_py = [.24,.267,.323,.375,.454,.487,.498,.542,.582,.603,.586,.545,.498,.415,.349,.26,.1905,.133,.0968,.0755,.0589,.0398,.027,.0182,.0095,.00505,.002]
ml9_y = [.01,.0245,.05,.1,.2,.411,.538,.68,.804,.9,1.0,1.2,1.33,1.45,1.57,1.72,1.86,1.95,2.05,2.2,2.35,2.48,2.6,2.78,2.92,3.02,3.12]
ml9_py = [.408,.454,.575,.774,.9,.92,.861,.711,.574,.46,.374,.309,.253,.195,.152,.13,.1174,.095,.0728,.066,.063,.044,.0333,.025,.0182,.00505,.002]

# ---------- panel (d): p(log10 M) ----------
prior_m = [1, 5]
prior_pm = [.25, .25]
det_m = [1,1.05,1.12,1.19,1.26,1.32,1.38,1.45,1.52,1.66,1.83,2,2.17,2.34,2.54,2.71,2.85,3,3.2,3.45,3.67,3.96,4.24,4.61,4.68,4.72,4.76,4.8,4.85,4.89,4.95,5]
det_pm = [.125,.165,.21,.238,.252,.261,.266,.27,.273,.2755,.2745,.273,.267,.261,.2565,.2545,.252,.248,.241,.235,.237,.233,.235,.237,.235,.23,.223,.212,.192,.168,.14,.115]
ml3_m = [1,1.18,1.41,1.52,1.6,1.77,1.87,1.97,2.03,2.09,2.15,2.23,2.29,2.34,2.41,2.48,2.54,2.6,2.68,2.77,2.85,2.91,3.02,3.25,3.42,3.56,3.72,3.96,4.19,4.44,4.64,4.68,4.72,4.76,4.81,4.86,4.9,4.93,4.95,4.98,5]
ml3_pm = [.005,.012,.02,.031,.04,.062,.08,.102,.118,.1415,.168,.199,.222,.2475,.272,.294,.305,.315,.327,.338,.348,.353,.357,.349,.346,.338,.335,.341,.344,.341,.3475,.3465,.341,.33,.312,.288,.261,.235,.212,.19,.175]
ml9_m = [1,1.12,1.41,1.69,1.97,2.1,2.2,2.31,2.37,2.43,2.5,2.57,2.62,2.68,2.75,2.83,2.92,3,3.14,3.31,3.45,3.65,3.96,4.19,4.44,4.61,4.66,4.7,4.74,4.78,4.82,4.87,4.91,4.95,4.98,5]
ml9_pm = [.002,.0044,.0155,.033,.0575,.072,.0885,.108,.125,.1437,.17,.197,.22,.243,.277,.3095,.34,.354,.371,.387,.394,.392,.398,.401,.399,.403,.402,.4,.393,.38,.365,.3315,.30,.2565,.23,.21]

LEG = ["Prior assumption", "PDF (detected)",
       "PDF (identified as microlensed;\n$\\log_{10}\\mathcal{B}^{\\rm ML}_{\\rm UL}\\approx\\rho^2_{\\rm res}/2\\,\\ln 10>3\\,\\log_{10}(e)$",
       "PDF (identified as microlensed;\n$\\log_{10}\\mathcal{B}^{\\rm ML}_{\\rm UL}\\approx\\rho^2_{\\rm res}/2\\,\\ln 10>9\\,\\log_{10}(e)$"]

sns.set_style("ticks")
plt.rcParams.update({"font.family": ["cmr10", "DejaVu Sans"], "mathtext.fontset": "cm",
                     "axes.formatter.use_mathtext": True, "axes.unicode_minus": False,
                     "xtick.direction": "inout", "ytick.direction": "inout",
                     "xtick.major.size": 10, "ytick.major.size": 10, "xtick.minor.size": 6, "ytick.minor.size": 6,
                     "xtick.major.width": 1, "ytick.major.width": 1, "xtick.minor.width": .8, "ytick.minor.width": .8,
                     "axes.edgecolor": "black", "axes.linewidth": 1.2, "text.color": "#222222",
                     "xtick.color": "#222222", "ytick.color": "#222222", "axes.labelcolor": "#222222",
                     "xtick.labelsize": 16, "ytick.labelsize": 16, "axes.labelsize": 17})

W, H = 1358, 883
fig = plt.figure(figsize=(W/100, H/100), dpi=100)
def rect(l, t, r, b):
    return [l/W, 1-b/H, (r-l)/W, (b-t)/H]

ax_a = fig.add_axes(rect(82, 2.5, 665.5, 310.5))
ax_b = fig.add_axes(rect(755.5, 2.5, 1338, 310.5))
ax_c = fig.add_axes(rect(81, 501, 666, 820))
ax_d = fig.add_axes(rect(755.5, 501, 1338, 820))
cax_a = fig.add_axes(rect(82, 382, 665.5, 411.5))
cax_b = fig.add_axes(rect(755.5, 382, 1338, 411.5))

def log_axis(axis):
    axis.set_major_locator(LogLocator(base=10, numticks=30))
    axis.set_minor_locator(LogLocator(base=10, subs=np.arange(2, 10), numticks=30))
    axis.set_minor_formatter(NullFormatter())

def dense_mesh(ax, cols, rows, edge, values, norm):
    x, y = np.meshgrid(np.array(cols, float), np.array(rows, float))
    y[-1, :] = edge
    ax.pcolormesh(10.0**x, 10.0**y, np.array(values), cmap="Blues", norm=norm, shading="gouraud", zorder=1)

for ax in (ax_a, ax_b):
    ax.set_xscale("log"); ax.set_yscale("log")
    ax.set_xlim(10**.8, 10**5.2); ax.set_ylim(.008, 4)
    log_axis(ax.xaxis); log_axis(ax.yaxis)

# panel a
ff_norm = Normalize(.6627, .9927)
dense_mesh(ax_a, band_logM, band_logy, band_edge, band_ff, ff_norm)
df_a = pd.DataFrame(ff_low_left + ff_low_extra + ff_mid_left + ff_dark_tail + ff_light_tail + ff_spots, columns=["logM", "logy", "ff"])
df_a["M"] = 10**df_a.logM; df_a["y"] = 10**df_a.logy
sns.scatterplot(data=df_a, x="M", y="y", hue="ff", palette="Blues", hue_norm=ff_norm, s=38, linewidth=0,
                legend=False, ax=ax_a, zorder=2)
ax_a.set_ylabel(r"$y$", labelpad=-4)
ax_a.set_xlabel(r"$M_{\rm Lz}$", labelpad=1)

# panel b
bf_lo, bf_hi = -4.13, 4.9
bf_norm = Normalize(bf_lo, bf_hi)
dense_mesh(ax_b, core_logM, core_logy, core_edge, core_logB, bf_norm)
df_b = pd.DataFrame(bf_giant + bf_low + bf_right + bf_band_bottom + bf_dense + bf_edge + bf_texture + bf_left + bf_fill, columns=["logM", "logy", "logB"])
df_b["M"] = 10**df_b.logM; df_b["y"] = 10**df_b.logy
df_b["area"] = (.72*42*10**((df_b.logB-4.9)*.215))**2
sns.scatterplot(data=df_b, x="M", y="y", hue="logB", palette="Blues", hue_norm=bf_norm,
                size="area", sizes=(df_b.area.min(), df_b.area.max()), size_norm=(df_b.area.min(), df_b.area.max()),
                linewidth=0, alpha=.9, legend=False, ax=ax_b, zorder=2)
ax_b.set_ylabel("")
ax_b.set_xlabel(r"$M_{\rm Lz}$", labelpad=1)

# colour bars
cb_a = fig.colorbar(ScalarMappable(ff_norm, "Blues"), cax=cax_a, orientation="horizontal")
cb_a.set_ticks([.70, .75, .80, .85, .90, .95]); cb_a.ax.set_xticklabels(["0.70", "0.75", "0.80", "0.85", "0.90", "0.95"])
cb_a.set_label(r"$FF(h_{\rm ML},h_{\rm UL})$", fontsize=17.5, labelpad=1)
cb_b = fig.colorbar(ScalarMappable(LogNorm(10**bf_lo, 10**bf_hi), "Blues"), cax=cax_b, orientation="horizontal", alpha=.9)
cb_b.set_ticks([1e-3, 1e-1, 1e1, 1e3]); cb_b.ax.xaxis.set_minor_locator(FixedLocator([]))
cb_b.set_label(r"$\log_{10}\,B^{\rm ML}_{\rm UL}$", fontsize=18, labelpad=0)
for cb in (cb_a, cb_b):
    cb.ax.tick_params(axis="x", direction="out", length=4, width=1, which="both")
    cb.outline.set_linewidth(1.2)

# panel c
ax_c.set_xscale("log"); ax_c.set_yscale("log")
ax_c.set_xlim(.01, 3.6); ax_c.set_ylim(.002, 1.8)
log_axis(ax_c.xaxis); log_axis(ax_c.yaxis)
ax_c.grid(True, which="major", color="#c4c4c4", lw=1.3)
ax_c.set_axisbelow(True)
LW = 3.2
sns.lineplot(x=prior_y, y=prior_py, color="black", lw=LW+.3, label=LEG[0], sort=False, estimator=None, ax=ax_c)
sns.lineplot(x=det_y, y=det_py, color="red", lw=LW, label=LEG[1], sort=False, estimator=None, ax=ax_c)
sns.lineplot(x=ml3_y, y=ml3_py, color="blue", lw=LW, label=LEG[2], sort=False, estimator=None, ax=ax_c)
sns.lineplot(x=ml9_y, y=ml9_py, color="blue", lw=LW, ls="--", label=LEG[3], sort=False, estimator=None, ax=ax_c)
ax_c.legend(loc="lower left", bbox_to_anchor=(.0, .0), fontsize=12, framealpha=.8, handlelength=2.5,
            labelspacing=.5, borderaxespad=.6, borderpad=.35, handletextpad=.8)
ax_c.set_xlabel(r"$y$", labelpad=0)
ax_c.set_ylabel(r"$p(y)$", labelpad=-4)

# panel d
ax_d.set_xlim(.81, 5.195); ax_d.set_ylim(0, .4225)
ax_d.set_xticks([1, 2, 3, 4, 5]); ax_d.set_yticks([0, .1, .2, .3, .4])
ax_d.set_yticklabels(["0.0", "0.1", "0.2", "0.3", "0.4"])
ax_d.grid(True, which="major", color="#c4c4c4", lw=1.3)
ax_d.set_axisbelow(True)
sns.lineplot(x=prior_m, y=prior_pm, color="black", lw=LW+.3, sort=False, estimator=None, ax=ax_d)
sns.lineplot(x=det_m, y=det_pm, color="red", lw=LW, sort=False, estimator=None, ax=ax_d)
sns.lineplot(x=ml3_m, y=ml3_pm, color="blue", lw=LW, sort=False, estimator=None, ax=ax_d)
sns.lineplot(x=ml9_m, y=ml9_pm, color="blue", lw=LW, ls="--", sort=False, estimator=None, ax=ax_d)
ax_d.set_xlabel(r"$\log_{10}\,M_{\rm Lz}$", labelpad=0)
ax_d.set_ylabel(r"$p(M_{\rm Lz})$", labelpad=-1)

fig.savefig("out.png", dpi=100)
